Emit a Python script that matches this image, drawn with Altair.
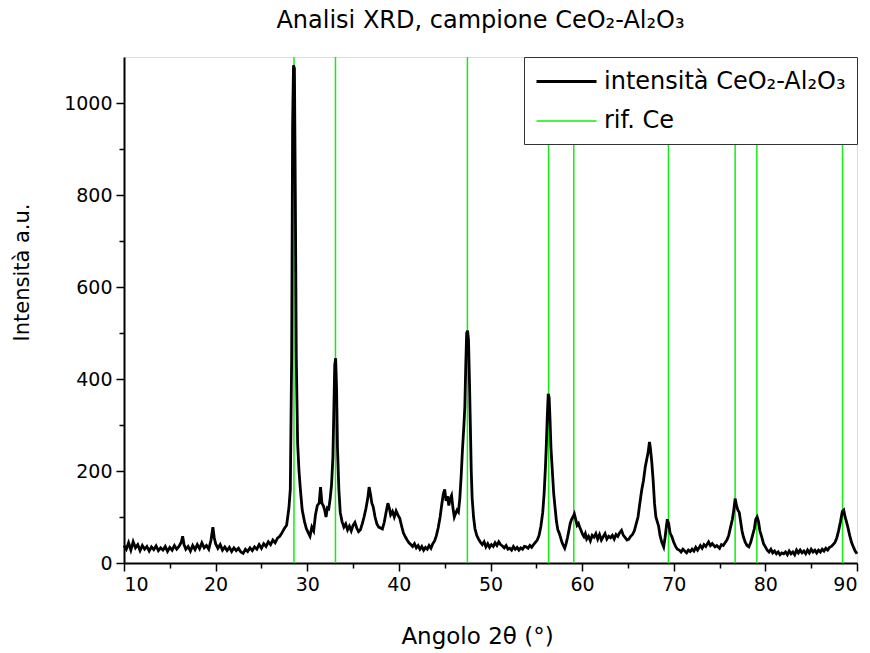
import altair as alt
import pandas as pd

# ---- data ----
two_theta = [
    10.0, 10.25, 10.5, 10.75, 11.0, 11.25, 11.5, 11.75, 12.0, 12.25, 12.5, 12.75,
    13.0, 13.25, 13.5, 13.75, 14.0, 14.25, 14.5, 14.75, 15.0, 15.25, 15.5, 15.75,
    16.0, 16.25, 16.4, 16.55, 16.75, 17.0, 17.25, 17.5, 17.75, 18.0, 18.25, 18.5,
    18.75, 19.0, 19.25, 19.5, 19.7, 19.85, 20.0, 20.25, 20.5, 20.75, 21.0, 21.25,
    21.5, 21.75, 22.0, 22.25, 22.5, 22.75, 23.0, 23.25, 23.5, 23.75, 24.0, 24.25,
    24.5, 24.75, 25.0, 25.25, 25.5, 25.75, 26.0, 26.25, 26.5, 26.75, 27.0, 27.25,
    27.5, 27.75, 28.0, 28.15, 28.3, 28.4, 28.5, 28.6, 28.7, 28.8, 28.95, 29.1,
    29.25, 29.45, 29.7, 29.9, 30.1, 30.3, 30.5, 30.7, 30.9, 31.1, 31.3, 31.45,
    31.6, 31.75, 31.9, 32.05, 32.2, 32.35, 32.5, 32.65, 32.8, 32.9, 33.0, 33.1,
    33.2, 33.3, 33.45, 33.6, 33.8, 34.0, 34.2, 34.4, 34.6, 34.8, 35.0, 35.2,
    35.4, 35.6, 35.8, 36.0, 36.2, 36.4, 36.6, 36.75, 36.9, 37.05, 37.2, 37.4,
    37.6, 37.8, 38.0, 38.2, 38.4, 38.6, 38.8, 38.95, 39.1, 39.3, 39.5, 39.7,
    39.9, 40.1, 40.3, 40.5, 40.7, 40.9, 41.1, 41.3, 41.5, 41.7, 41.9, 42.1,
    42.3, 42.5, 42.7, 42.9, 43.1, 43.3, 43.5, 43.7, 43.9, 44.1, 44.3, 44.5,
    44.7, 44.85, 45.0, 45.15, 45.3, 45.45, 45.6, 45.75, 45.9, 46.05, 46.2, 46.35,
    46.5, 46.65, 46.8, 46.95, 47.1, 47.2, 47.3, 47.4, 47.5, 47.6, 47.7, 47.8,
    47.9, 48.0, 48.15, 48.3, 48.5, 48.7, 48.9, 49.1, 49.3, 49.5, 49.7, 49.9,
    50.1, 50.3, 50.5, 50.7, 50.9, 51.1, 51.3, 51.5, 51.7, 51.9, 52.1, 52.3,
    52.5, 52.7, 52.9, 53.1, 53.3, 53.5, 53.7, 53.9, 54.1, 54.3, 54.5, 54.7,
    54.9, 55.1, 55.3, 55.5, 55.7, 55.85, 56.0, 56.1, 56.2, 56.3, 56.4, 56.5,
    56.6, 56.75, 56.9, 57.05, 57.2, 57.35, 57.5, 57.65, 57.8, 57.95, 58.1, 58.25,
    58.4, 58.55, 58.7, 58.85, 59.0, 59.15, 59.3, 59.45, 59.6, 59.75, 59.9, 60.05,
    60.2, 60.35, 60.5, 60.7, 60.9, 61.1, 61.3, 61.5, 61.7, 61.9, 62.1, 62.3,
    62.5, 62.7, 62.9, 63.1, 63.3, 63.5, 63.7, 63.9, 64.1, 64.3, 64.5, 64.7,
    64.9, 65.1, 65.3, 65.5, 65.7, 65.9, 66.1, 66.3, 66.5, 66.7, 66.9, 67.05,
    67.2, 67.35, 67.45, 67.6, 67.75, 67.9, 68.05, 68.2, 68.35, 68.5, 68.7, 68.9,
    69.05, 69.2, 69.3, 69.45, 69.6, 69.8, 70.0, 70.2, 70.4, 70.6, 70.8, 71.0,
    71.2, 71.4, 71.6, 71.8, 72.0, 72.2, 72.4, 72.6, 72.9, 73.1, 73.3, 73.5,
    73.8, 74.0, 74.2, 74.5, 74.7, 75.0, 75.2, 75.4, 75.6, 75.8, 76.0, 76.2,
    76.4, 76.55, 76.7, 76.85, 77.0, 77.15, 77.3, 77.45, 77.6, 77.8, 78.0, 78.2,
    78.4, 78.6, 78.8, 78.95, 79.1, 79.25, 79.4, 79.6, 79.8, 80.0, 80.2, 80.4,
    80.6, 80.8, 81.0, 81.2, 81.4, 81.6, 81.8, 82.0, 82.2, 82.4, 82.6, 82.8,
    83.0, 83.2, 83.4, 83.6, 83.8, 84.0, 84.2, 84.4, 84.6, 84.8, 85.0, 85.2,
    85.4, 85.6, 85.8, 86.0, 86.2, 86.4, 86.6, 86.8, 87.0, 87.2, 87.4, 87.6,
    87.8, 88.0, 88.2, 88.4, 88.55, 88.7, 88.85, 89.0, 89.2, 89.4, 89.6, 89.8,
    90.0,
]
intensity = [
    38, 30, 44, 28, 46, 33, 40, 27, 38, 30, 36, 26,
    35, 29, 37, 27, 33, 28, 36, 25, 34, 28, 38, 30,
    36, 45, 58, 40, 30, 36, 26, 38, 29, 40, 31, 44,
    33, 38, 30, 50, 78, 55, 42, 32, 40, 28, 35, 27,
    34, 25, 33, 27, 32, 24, 21, 30, 25, 33, 27, 35,
    30, 40, 32, 42, 36, 46, 40, 50, 44, 54, 58, 66,
    75, 82, 120, 160, 450, 950, 1082, 1075, 800, 450, 260, 200,
    160, 115, 90, 75, 66, 58, 78, 70, 105, 125, 130, 165,
    130, 125, 115, 100, 120, 118, 140, 170, 230, 330, 430, 445,
    380, 250, 160, 110, 90, 78, 85, 72, 80, 70, 82, 88,
    76, 68, 72, 85, 100, 118, 140, 165, 150, 130, 122, 100,
    85, 78, 76, 74, 88, 110, 130, 120, 105, 112, 100, 113,
    104, 97, 80, 65, 57, 50, 44, 40, 36, 42, 33, 38,
    30, 36, 28, 34, 30, 38, 32, 42, 48, 60, 77, 100,
    130, 150, 160, 135, 145, 125, 140, 147, 120, 100, 108, 115,
    111, 140, 190, 250, 300, 340, 430, 500, 505, 485, 400, 300,
    200, 140, 100, 75, 60, 52, 45, 40, 46, 35, 42, 34,
    40, 36, 44, 38, 46, 40, 37, 33, 38, 30, 32, 28,
    36, 30, 34, 28, 33, 30, 36, 35, 32, 38, 34, 40,
    45, 50, 60, 80, 110, 150, 210, 260, 320, 368, 360, 310,
    250, 200, 150, 120, 90, 72, 65, 55, 45, 38, 32, 42,
    55, 70, 86, 95, 100, 107, 95, 82, 86, 77, 70, 62,
    57, 64, 52, 58, 48, 60, 56, 64, 52, 62, 50, 57,
    64, 52, 58, 55, 60, 52, 62, 58, 66, 71, 60, 55,
    50, 52, 58, 62, 70, 85, 100, 130, 158, 180, 210, 225,
    240, 263, 250, 220, 180, 130, 100, 90, 80, 60, 45, 35,
    55, 80, 95, 85, 65, 57, 45, 36, 30, 28, 24, 30,
    26, 22, 28, 25, 30, 26, 34, 28, 38, 32, 40, 36,
    46, 38, 42, 35, 38, 32, 40, 38, 44, 50, 60, 78,
    95, 115, 140, 125, 115, 110, 90, 70, 57, 45, 38, 35,
    45, 60, 75, 95, 100, 90, 70, 57, 42, 35, 28, 24,
    30, 22, 26, 20, 24, 18, 22, 20, 24, 18, 26, 20,
    24, 18, 28, 22, 28, 22, 26, 20, 28, 22, 30, 24,
    28, 22, 28, 24, 30, 26, 32, 28, 34, 36, 40, 45,
    55, 71, 90, 112, 115, 100, 90, 78, 60, 45, 35, 26,
    20,
]
ref_peaks = [28.55, 33.08, 47.48, 56.34, 59.09, 69.42, 76.70, 79.07, 88.42]

series_names = ["intensità CeO₂-Al₂O₃", "rif. Ce"]
series_colors = ["#000000", "#11ee11"]
series_widths = [2.8, 1.5]

x_major = list(range(10, 91, 10))
x_minor = list(range(15, 90, 10))
y_major = list(range(0, 1001, 200))
y_minor = list(range(100, 1001, 200))

# ---- tables ----
spec_df = pd.DataFrame({"two_theta": two_theta, "intensity": intensity,
                        "series": series_names[0]})
ref_df = pd.DataFrame({"two_theta": ref_peaks, "series": series_names[1]})

FONT = "DejaVu Sans"
x_scale = alt.Scale(domain=[10, 90], nice=False, zero=False)
y_scale = alt.Scale(domain=[0, 1100], nice=False)

legend = alt.Legend(
    title=None, orient="top-right", offset=0, fillColor="white",
    strokeColor="#333333", padding=11, labelFont=FONT, labelFontSize=24,
    labelColor="black", symbolType="M-1,0H4", symbolSize=576,
    labelOffset=42, rowPadding=14, labelLimit=500,
)
color_enc = alt.Color("series:N",
                      scale=alt.Scale(domain=series_names, range=series_colors),
                      legend=legend)
width_enc = alt.StrokeWidth("series:N",
                            scale=alt.Scale(domain=series_names, range=series_widths),
                            legend=legend)

common_axis = dict(domainColor="black", domainWidth=2, tickColor="black",
                   tickWidth=1.5, grid=False, labelFont=FONT, titleFont=FONT,
                   labelColor="black", titleColor="black", labelFontSize=19,
                   titleFontWeight="normal")

line = alt.Chart(spec_df).mark_line(interpolate="linear").encode(
    x=alt.X("two_theta:Q", scale=x_scale,
            axis=alt.Axis(values=x_major, tickSize=8, labelPadding=4,
                          title="Angolo 2θ (°)", titlePadding=31,
                          titleFontSize=23, titleX=353,
                          format="d", **common_axis)),
    y=alt.Y("intensity:Q", scale=y_scale,
            axis=alt.Axis(values=y_major, tickSize=8, labelPadding=4,
                          title="Intensità a.u.", titlePadding=31,
                          titleFontSize=21, titleY=215,
                          format="d", **common_axis)),
    color=color_enc,
    strokeWidth=width_enc,
)

minor = alt.Chart(spec_df).mark_line(opacity=0).encode(
    x=alt.X("two_theta:Q", scale=x_scale,
            axis=alt.Axis(values=x_minor, tickSize=5, labels=False, title=None,
                          orient="bottom", domain=False, grid=False,
                          tickColor="black", tickWidth=1.5)),
    y=alt.Y("intensity:Q", scale=y_scale,
            axis=alt.Axis(values=y_minor, tickSize=5, labels=False, title=None,
                          orient="left", domain=False, grid=False,
                          tickColor="black", tickWidth=1.5)),
)

rules = alt.Chart(ref_df).mark_rule().encode(
    x=alt.X("two_theta:Q", scale=x_scale, axis=None),
    color=color_enc,
    strokeWidth=width_enc,
)

chart = alt.layer(rules, line, minor).resolve_axis(
    x="independent", y="independent"
).properties(
    width=733,
    height=506,
    title=alt.TitleParams("Analisi XRD, campione CeO₂-Al₂O₃", font=FONT,
                          fontSize=24, fontWeight="normal", color="black",
                          offset=23, dx=-10),
    autosize=alt.AutoSizeParams(type="none"),
    padding={"left": 124, "top": 57, "right": 13, "bottom": 90},
).configure_view(
    stroke="black", strokeWidth=2.5
).configure(background="white")

chart.save("out.html", embed_options={"renderer": "svg", "actions": False})
